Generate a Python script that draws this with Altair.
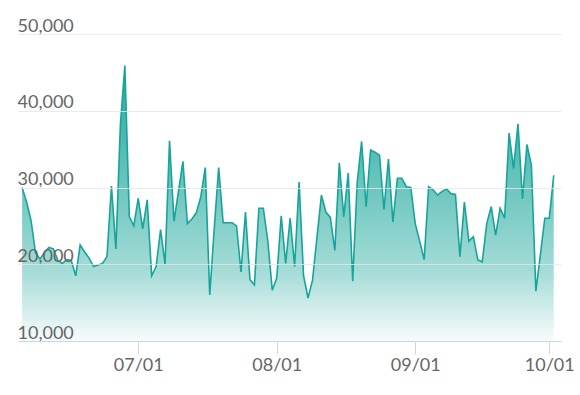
import altair as alt
import pandas as pd

start_date = "2023-06-05"
values = [
    30000, 28100, 25700, 21500, 20700, 21500, 22200, 22000, 20500, 20100,
    20600, 20500, 18500, 22500, 21600, 20800, 19700, 19900, 20100, 21000,
    30200, 22000, 38200, 45900, 26200, 25000, 28600, 24600, 28400, 18500,
    19700, 24500, 20000, 36100, 25600, 29500, 33400, 25300, 25900, 26700,
    28800, 32600, 16000, 24600, 32600, 25400, 25400, 25400, 25000, 19000,
    26800, 18000, 17300, 27300, 27300, 23000, 16600, 18200, 26300, 20100,
    26000, 19700, 30700, 18500, 15600, 17900, 23500, 29000, 26800, 26100,
    21800, 33200, 26200, 31900, 17800, 30600, 36000, 27500, 34900, 34600,
    34200, 27100, 33700, 25500, 31200, 31200, 30100, 30000, 25300, 23000,
    20600, 30100, 29700, 29000, 29500, 29800, 29200, 29100, 21000, 28100,
    23000, 23600, 20600, 20300, 25300, 27500, 23800, 27300, 26000, 37100,
    32500, 38300, 28500, 35600, 32900, 16500, 21200, 26000, 26000, 31600,
]
dates = pd.date_range(start_date, periods=len(values), freq="D").strftime("%Y-%m-%d").tolist()
y_ticks = [10000, 20000, 30000, 40000, 50000]
x_tick_months = [7, 8, 9, 10]

df = pd.DataFrame({"date": dates, "value": values})

FONT = "Lato"
LINE = "#16a59b"

x_enc = alt.X(
    "date:T",
    scale=alt.Scale(
        type="utc",
        domain=[
            alt.DateTime(year=2023, month=6, date=4, hours=2, utc=True),
            alt.DateTime(year=2023, month=10, date=3, hours=15, utc=True),
        ],
    ),
    axis=alt.Axis(
        title=None,
        values=[alt.DateTime(year=2023, month=m, date=1, utc=True) for m in x_tick_months],
        format="%m/%d",
        grid=False,
        domainColor="#ccd6eb",
        tickColor="#ccd6eb",
        tickSize=13,
        labelPadding=2,
        labelBaseline="top",
        labelFont=FONT,
        labelFontSize=18,
        labelColor="#666666",
        zindex=1,
    ),
)

y_enc = alt.Y(
    "value:Q",
    scale=alt.Scale(domain=[10000, 50000], zero=False, nice=False),
    axis=alt.Axis(
        title=None,
        values=y_ticks,
        format=",d",
        grid=True,
        gridColor="#e6e6e6",
        gridOpacity=0.8,
        domain=False,
        ticks=False,
        tickSize=0,
        labelAlign="left",
        labelBaseline="alphabetic",
        labelOffset=-3,
        labelPadding=1,
        labelFont=FONT,
        labelFontSize=18,
        labelColor="#666666",
        labelBound=False,
        labelOverlap=False,
        zindex=1,
    ),
)

area = alt.Chart(df).mark_area(
    color=alt.Gradient(
        gradient="linear",
        stops=[
            alt.GradientStop(color="#1fa89e", offset=0),
            alt.GradientStop(color="#77cac3", offset=0.5),
            alt.GradientStop(color="#a6dcd8", offset=0.75),
            alt.GradientStop(color="#f8fcfc", offset=1),
        ],
        x1=1, x2=1, y1=0, y2=1,
    ),
    interpolate="linear",
).encode(x=x_enc, y=y_enc, y2=alt.datum(10000))

line = alt.Chart(df).mark_line(color=LINE, strokeWidth=1.6).encode(x=x_enc, y=y_enc)

chart = (
    alt.layer(area, line)
    .properties(
        width=543,
        height=307,
        autosize=alt.AutoSizeParams(type="none"),
        padding={"left": 18, "top": 34, "right": 19, "bottom": 54},
        background="white",
    )
    .configure_view(stroke=None)
)

chart.save("out.html", embed_options={"renderer": "svg", "actions": False})
